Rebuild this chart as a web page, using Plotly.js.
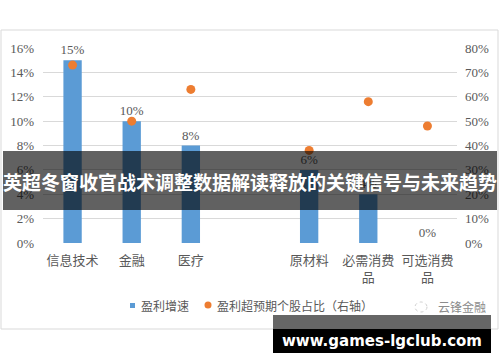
<!DOCTYPE html>
<html><head><meta charset="utf-8">
<script src="https://cdn.plot.ly/plotly-3.0.1.min.js"></script>
<style>html,body{margin:0;padding:0;background:#fff;}#chart{width:500px;height:362px;}</style>
</head><body><div id="chart"></div>
<script>
const categories = ["信息技术", "金融", "医疗", " ", "原材料", "必需消费<br>品", "可选消费<br>品"];
const profitGrowth = [15, 10, 8, null, 6, 4, 0];
const beatShare = [73, 50, 63, null, 38, 58, 48];
const leftTicks = [0, 2, 4, 6, 8, 10, 12, 14, 16];
const rightTicks = [0, 10, 20, 30, 40, 50, 60, 70, 80];
const seriesNames = ["盈利增速", "盈利超预期个股占比（右轴）"];
const bannerText = "英超冬窗收官战术调整数据解读释放的关键信号与未来趋势";
const siteText = "www.games-lgclub.com";
const sourceText = "云锋金融";

// pixel -> paper helpers (plot area: x 43..457, y 48..243)
const L = 43, R = 43, T = 48, B = 119, W = 500, H = 362;
const PW = W - L - R, PH = H - T - B;
const px = v => (v - L) / PW;
const py = v => (H - B - v) / PH;

const serif = "Liberation Serif, Times New Roman, serif";
const cjk = "Noto Sans CJK SC, sans-serif";
const grey = "#595959";

const traces = [
  {
    type: "bar", x: categories, y: profitGrowth, name: seriesNames[0],
    marker: {color: "#5b9bd5"},
    text: profitGrowth.map(v => v === null ? "" : v + "%"),
    textposition: "outside", cliponaxis: false, constraintext: "none",
    textfont: {family: serif, size: 13, color: grey},
    showlegend: false
  },
  {
    type: "scatter", mode: "markers", x: categories, y: beatShare, yaxis: "y2",
    name: seriesNames[1], marker: {color: "#ed7d31", size: 9}, showlegend: false
  }
];

const shapes = [
  {type: "rect", xref: "paper", yref: "paper", x0: px(1), x1: px(498), y0: py(329), y1: py(30),
   line: {color: "#d9d9d9", width: 1}, fillcolor: "rgba(0,0,0,0)", layer: "below"},
  {type: "rect", xref: "paper", yref: "paper", x0: px(130), x1: px(135), y0: py(308), y1: py(303),
   line: {width: 0}, fillcolor: "#5b9bd5"},
  {type: "circle", xref: "paper", yref: "paper", x0: px(204.5), x1: px(211.5), y0: py(308.5), y1: py(301.5),
   line: {width: 0}, fillcolor: "#ed7d31"},
  {type: "circle", xref: "paper", yref: "paper", x0: px(415), x1: px(427), y0: py(312), y1: py(302),
   line: {width: 1, color: "#cfcfcf", dash: "dot"}, fillcolor: "rgba(0,0,0,0)"},
  {type: "rect", xref: "paper", yref: "paper", x0: px(3), x1: px(497), y0: py(210), y1: py(151),
   line: {width: 0}, fillcolor: "rgba(0,0,0,0.62)", layer: "above"},
  {type: "rect", xref: "paper", yref: "paper", x0: px(273), x1: px(491), y0: py(329), y1: py(315),
   line: {width: 0}, fillcolor: "#666666", layer: "above"},
  {type: "rect", xref: "paper", yref: "paper", x0: px(273), x1: px(491), y0: py(353), y1: py(329),
   line: {width: 0}, fillcolor: "#000000", layer: "above"}
];

const annotations = [
  {xref: "paper", yref: "paper", x: px(139), y: py(305), xanchor: "left", yanchor: "middle",
   text: seriesNames[0], showarrow: false, font: {family: cjk, size: 12, color: grey}},
  {xref: "paper", yref: "paper", x: px(215), y: py(305), xanchor: "left", yanchor: "middle",
   text: seriesNames[1], showarrow: false, font: {family: cjk, size: 12, color: grey}},
  {xref: "paper", yref: "paper", x: px(436), y: py(306), xanchor: "left", yanchor: "middle",
   text: sourceText, showarrow: false, font: {family: cjk, size: 12, color: "#8c8c8c"}},
  {xref: "paper", yref: "paper", x: px(250), y: py(181), xanchor: "center", yanchor: "middle",
   text: "<b>" + bannerText + "</b>", showarrow: false, font: {family: cjk, size: 19, color: "#ffffff"}},
  {xref: "paper", yref: "paper", x: px(382), y: py(341), xanchor: "center", yanchor: "middle",
   text: "<b>" + siteText + "</b>", showarrow: false, font: {family: "DejaVu Sans, sans-serif", size: 15, color: "#ffffff"}}
];

const layout = {
  width: W, height: H,
  margin: {l: L, r: R, t: T, b: B, pad: 0},
  paper_bgcolor: "#ffffff", plot_bgcolor: "#ffffff",
  bargap: 0.69,
  xaxis: {type: "category", categoryorder: "array", categoryarray: categories,
          showgrid: false, zeroline: false, showline: false, ticks: "", ticklabelstandoff: 8,
          tickfont: {family: cjk, size: 13, color: grey}, fixedrange: true},
  yaxis: {range: [0, 16], tickvals: leftTicks, ticktext: leftTicks.map(v => v + "%"),
          showgrid: true, gridcolor: "#d9d9d9", gridwidth: 1, zeroline: false, showline: false,
          ticks: "", ticklabelstandoff: 8, tickfont: {family: serif, size: 13, color: grey}},
  yaxis2: {range: [0, 80], tickvals: rightTicks, ticktext: rightTicks.map(v => v + "%"),
           overlaying: "y", side: "right", showgrid: false, zeroline: false, showline: false,
           ticks: "", ticklabelstandoff: 7, tickfont: {family: serif, size: 13, color: grey}},
  shapes: shapes,
  annotations: annotations,
  showlegend: false
};

Plotly.newPlot("chart", traces, layout, {staticPlot: true, displayModeBar: false});
</script></body></html>
